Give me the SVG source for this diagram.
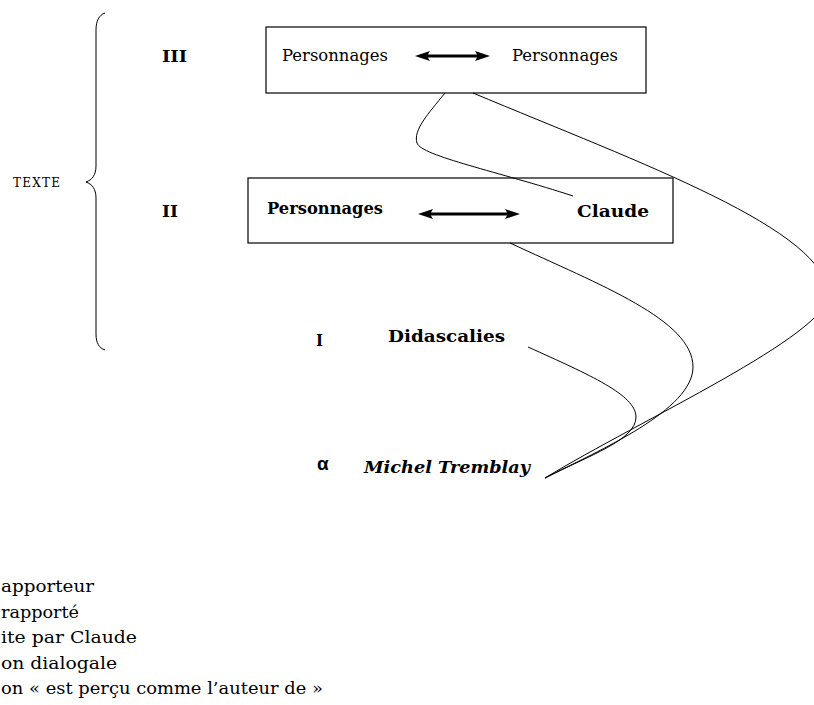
<svg xmlns="http://www.w3.org/2000/svg" width="814" height="705" viewBox="0 0 814 705">
<defs>
<style>
text{font-family:"DejaVu Serif","Liberation Serif",serif;fill:#000}
.b{font-weight:bold}
.box{fill:#fff;stroke:#000;stroke-width:1.2}
.c{fill:none;stroke:#000;stroke-width:1}
.shaft{stroke:#000;stroke-width:3}
.head{fill:#000}
</style>
<path id="hd" d="M0,0 L15,-5 L12,0 L15,5 Z"/>
</defs>
<rect width="814" height="705" fill="#fff"/>
<g id="brace">
<path class="c" d="M105,13 C99,15 96,21 96,30 L96,166 C96,175 92,180 86,182 C92,184 96,189 96,198 L96,334 C96,343 99,348 105,350"/>
<text x="13" y="187" font-size="12" fill="#222" textLength="47" lengthAdjust="spacing">TEXTE</text>
</g>
<g id="level-III">
<text class="b" x="162" y="62" font-size="17" textLength="25" lengthAdjust="spacingAndGlyphs">III</text>
<rect class="box" x="266" y="27" width="380" height="66"/>
<text x="282" y="61" font-size="17" textLength="106" lengthAdjust="spacingAndGlyphs">Personnages</text>
<text x="512" y="61" font-size="17" textLength="106" lengthAdjust="spacingAndGlyphs">Personnages</text>
<g id="arrow-III">
<line class="shaft" x1="426" y1="56" x2="479" y2="56"/>
<use href="#hd" class="head" transform="translate(415,56)"/>
<use href="#hd" class="head" transform="translate(490,56) scale(-1,1)"/>
</g>
</g>
<g id="level-II">
<text class="b" x="162" y="217" font-size="17" textLength="16" lengthAdjust="spacingAndGlyphs">II</text>
<rect class="box" x="248" y="178" width="425" height="65"/>
<text class="b" x="267" y="214" font-size="17.5" textLength="116" lengthAdjust="spacingAndGlyphs">Personnages</text>
<text class="b" x="577" y="217" font-size="17.5" textLength="72" lengthAdjust="spacingAndGlyphs">Claude</text>
<g id="arrow-II">
<line class="shaft" x1="429" y1="214" x2="509" y2="214"/>
<use href="#hd" class="head" transform="translate(418,214)"/>
<use href="#hd" class="head" transform="translate(520,214) scale(-1,1)"/>
</g>
</g>
<g id="level-I">
<text class="b" x="316" y="346" font-size="17" textLength="7" lengthAdjust="spacingAndGlyphs">I</text>
<text class="b" x="388" y="342" font-size="17.5" textLength="117" lengthAdjust="spacingAndGlyphs">Didascalies</text>
</g>
<g id="alpha">
<text x="317" y="470" style="font-family:'Liberation Sans','DejaVu Sans',sans-serif;font-weight:bold" font-size="19">α</text>
<text x="364" y="473" font-size="17" font-style="italic" font-weight="bold" textLength="166" lengthAdjust="spacingAndGlyphs">Michel Tremblay</text>
</g>
<g id="connectors">
<path class="c" d="M445,93 C428,114 413,130 417,143 C421,156 500,172 573,196"/>
<path class="c" d="M473,93 C640,163 828,230 828,295 C828,335 640,420 545,478"/>
<path class="c" d="M510,243 C600,285 693,320 693,367 C693,410 600,450 545,478"/>
<path class="c" d="M528,347 C590,375 636,395 636,417 C636,440 590,455 545,478"/>
</g>
<g id="legend" font-size="17.5">
<text x="1" y="592" textLength="93" lengthAdjust="spacingAndGlyphs">apporteur</text>
<text x="1" y="617.5" textLength="78" lengthAdjust="spacingAndGlyphs">rapporté</text>
<text x="1" y="643" textLength="136" lengthAdjust="spacingAndGlyphs">ite par Claude</text>
<text x="1" y="668.5" textLength="116" lengthAdjust="spacingAndGlyphs">on dialogale</text>
<text x="1" y="694" textLength="322" lengthAdjust="spacingAndGlyphs">on « est perçu comme l’auteur de »</text>
</g>
</svg>
